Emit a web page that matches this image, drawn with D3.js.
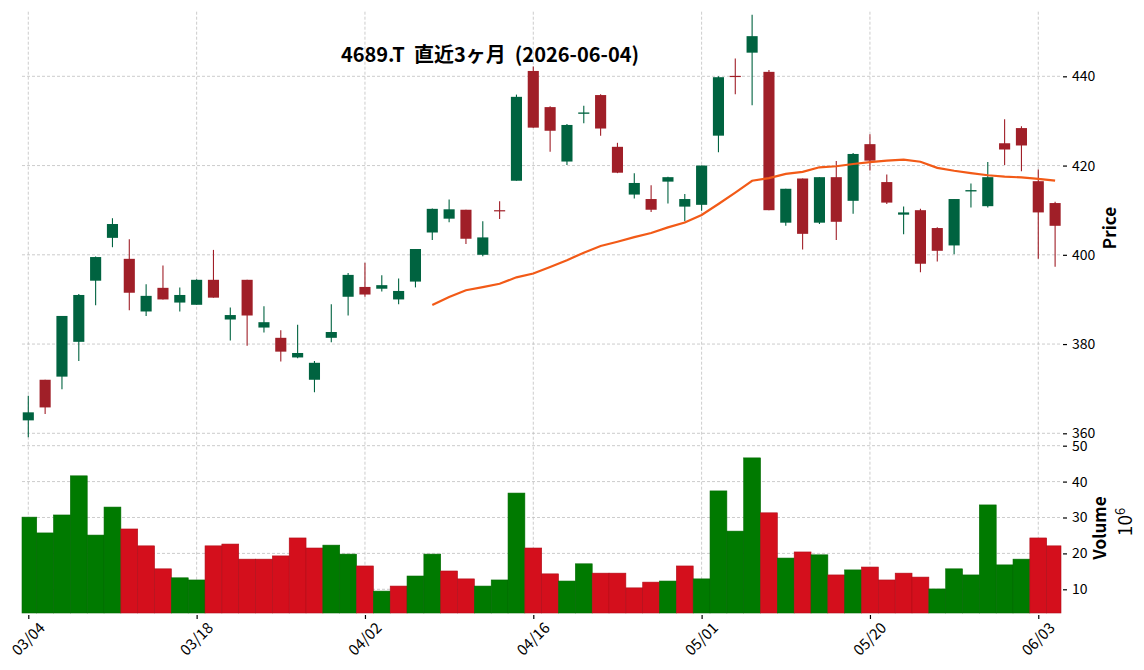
<!DOCTYPE html>
<html>
<head>
<meta charset="utf-8">
<script src="https://cdn.jsdelivr.net/npm/d3@7"></script>
<style>
  body { margin: 0; background: #fff; }
  svg text { font-family: "Noto Sans CJK JP", "Noto Sans", sans-serif; fill: #000; }
</style>
</head>
<body>
<div id="chart"></div>
<script>
// trading days
var dates = ["03/04","03/05","03/06","03/09","03/10","03/11","03/12","03/13","03/16","03/17",
  "03/18","03/19","03/23","03/24","03/25","03/26","03/27","03/30","03/31","04/01",
  "04/02","04/03","04/06","04/07","04/08","04/09","04/10","04/13","04/14","04/15",
  "04/16","04/17","04/20","04/21","04/22","04/23","04/24","04/27","04/28","04/30",
  "05/01","05/07","05/08","05/11","05/12","05/13","05/14","05/15","05/18","05/19",
  "05/20","05/21","05/22","05/25","05/26","05/27","05/28","05/29","06/01","06/02",
  "06/03","06/04"];

var opens = [362.9,372.0,372.7,380.5,394.2,403.8,399.1,387.3,392.6,389.3,
  388.8,394.4,385.5,394.4,383.7,381.4,377.0,372.0,381.4,390.6,
  392.8,392.4,390.0,394.0,405.0,408.1,410.1,400.0,410.0,416.6,
  441.2,433.1,420.9,431.6,435.8,424.2,413.5,412.5,416.4,410.8,
  411.2,426.7,440.1,445.3,441.0,407.2,417.1,407.2,417.4,412.1,
  424.8,416.3,409.0,410.0,406.0,402.1,414.2,410.9,425.0,428.4,
  416.5,411.6];
var highs = [368.4,372.0,386.3,391.2,399.6,408.2,403.5,393.4,397.6,392.7,
  394.5,401.1,388.2,394.4,388.5,383.1,384.3,376.2,388.9,395.9,
  398.2,395.4,394.7,401.3,410.4,412.4,410.1,407.5,412.0,435.9,
  442.2,433.3,429.3,433.4,436.0,425.1,418.3,415.6,417.5,413.6,
  420.0,440.0,444.0,453.8,441.4,414.8,417.1,417.4,421.0,422.8,
  427.0,418.0,410.8,410.3,406.2,412.5,416.0,420.8,430.4,428.8,
  419.1,411.9];
var lows = [359.1,364.3,369.9,376.2,388.7,401.7,387.6,386.3,390.0,387.3,
  388.8,390.4,380.8,379.6,382.6,376.1,376.8,369.2,380.4,386.4,
  390.6,391.8,388.9,392.7,403.3,407.3,402.4,399.7,408.0,416.6,
  428.5,423.1,420.1,429.5,426.7,418.3,412.6,409.6,411.5,407.5,
  409.9,423.0,436.0,433.5,410.0,406.5,401.2,406.9,403.3,409.2,
  418.9,411.4,404.6,396.1,398.5,400.1,410.6,410.6,420.1,418.7,
  399.1,397.3];
var closes = [364.7,365.8,386.3,391.0,399.5,406.9,391.5,390.8,390.0,391.0,
  394.4,390.4,386.5,386.4,384.9,378.3,378.0,375.8,382.7,395.5,
  391.1,393.2,391.9,401.3,410.3,410.2,403.6,403.9,409.8,435.4,
  428.5,427.8,429.1,431.9,428.3,418.4,416.1,410.1,417.4,412.5,
  420.0,439.8,439.9,449.0,410.0,414.8,404.7,417.4,407.4,422.6,
  421.1,411.7,409.5,398.0,400.9,412.5,414.5,417.4,423.6,424.5,
  409.5,406.5];
// volume in millions of shares
var volumes = [30.1,25.7,30.7,41.6,25.1,32.9,26.8,22.1,15.7,13.2,
  12.6,22.1,22.6,18.4,18.4,19.3,24.3,21.5,22.3,19.8,
  16.5,9.5,10.9,13.7,19.8,15.1,12.9,10.9,12.6,36.8,
  21.5,14.3,12.3,17.1,14.5,14.5,10.4,12.0,12.3,16.5,
  12.9,37.4,26.2,46.6,31.3,18.7,20.4,19.6,14.0,15.4,
  16.2,12.6,14.5,13.4,10.1,15.7,14.0,33.5,16.8,18.4,
  24.3,22.1];

var xTickLabels = ["03/04","03/18","04/02","04/16","05/01","05/20","06/03"];
var priceTicks = [360, 380, 400, 420, 440];
var volumeTicks = [10, 20, 30, 40, 50];
var maWindow = 25;
var title = "4689.T  直近3ヶ月  (2026-06-04)";

var width = 1144, height = 670;
var plotLeft = 22, plotRight = 1061, plotTop = 11.7, plotSplit = 445, plotBottom = 613;

var upCandle = "#006340", downCandle = "#a01f28";
var upVol = "#007a00", downVol = "#d40f1c";
var gridColor = "#bfbfbf";

var svg = d3.select("#chart").append("svg")
    .attr("width", width)
    .attr("height", height);

var n = dates.length;
var x = d3.scaleLinear().domain([-0.374, 61.35]).range([plotLeft, plotRight]);
var y = d3.scaleLinear().domain([357.38, 454.48]).range([plotSplit, plotTop]);
var yv = d3.scaleLinear().domain([3.4, 50.19]).range([plotBottom, plotSplit]);
var step = x(1) - x(0);

var data = dates.map(function (d, i) {
    return { i: i, date: d, o: opens[i], h: highs[i], l: lows[i], c: closes[i], v: volumes[i] };
});

// moving average of closes
var ma = [];
for (var i = maWindow - 1; i < n; i++) {
    ma.push({ i: i, v: d3.mean(closes.slice(i - maWindow + 1, i + 1)) });
}

// grid
var grid = svg.append("g")
    .attr("stroke", gridColor)
    .attr("stroke-width", 0.8)
    .attr("stroke-dasharray", "3,2");

var tickIdx = xTickLabels.map(function (t) { return dates.indexOf(t); });

grid.selectAll(".vg").data(tickIdx).enter().append("line")
    .attr("x1", function (d) { return x(d); })
    .attr("x2", function (d) { return x(d); })
    .attr("y1", plotTop).attr("y2", plotBottom);

grid.selectAll(".pg").data(priceTicks).enter().append("line")
    .attr("x1", plotLeft).attr("x2", plotRight)
    .attr("y1", function (d) { return y(d); })
    .attr("y2", function (d) { return y(d); });

grid.selectAll(".vvg").data(volumeTicks).enter().append("line")
    .attr("x1", plotLeft).attr("x2", plotRight)
    .attr("y1", function (d) { return yv(d); })
    .attr("y2", function (d) { return yv(d); });

// volume bars, coloured by close vs previous close
function volUp(d) { return d.i == 0 || d.c >= closes[d.i - 1]; }

svg.append("g").selectAll("rect")
    .data(data)
    .enter().append("rect")
    .attr("x", function (d) { return Math.max(plotLeft, x(d.i - 0.5)); })
    .attr("width", function (d) {
        var a = Math.max(plotLeft, x(d.i - 0.5)), b = Math.min(plotRight, x(d.i + 0.5));
        return b - a;
    })
    .attr("y", function (d) { return yv(d.v); })
    .attr("height", function (d) { return plotBottom - yv(d.v); })
    .attr("fill", function (d) { return volUp(d) ? upVol : downVol; })
    .attr("stroke", function (d) { return volUp(d) ? "#006a00" : "#b00d18"; })
    .attr("stroke-width", 0.6);

// candles
var candle = svg.append("g").selectAll("g")
    .data(data)
    .enter().append("g")
    .attr("fill", function (d) { return d.c >= d.o ? upCandle : downCandle; })
    .attr("stroke", function (d) { return d.c >= d.o ? upCandle : downCandle; });

candle.append("line")
    .attr("x1", function (d) { return x(d.i); })
    .attr("x2", function (d) { return x(d.i); })
    .attr("y1", function (d) { return y(d.h); })
    .attr("y2", function (d) { return y(d.l); })
    .attr("stroke-width", 1.1);

var bodyW = step * 0.66;
candle.append("rect")
    .attr("x", function (d) { return x(d.i) - bodyW / 2; })
    .attr("width", bodyW)
    .attr("y", function (d) { return y(Math.max(d.o, d.c)); })
    .attr("height", function (d) { return Math.max(1.2, Math.abs(y(d.o) - y(d.c))); })
    .attr("stroke", "none");

// moving average
svg.append("path")
    .datum(ma)
    .attr("fill", "none")
    .attr("stroke", "#f25a17")
    .attr("stroke-width", 2.2)
    .attr("d", d3.line()
        .x(function (d) { return x(d.i); })
        .y(function (d) { return y(d.v); }));

// right axes
var priceAxis = svg.append("g")
    .attr("transform", "translate(" + (plotRight + 2) + ",0)")
    .call(d3.axisRight(y).tickValues(priceTicks).tickSize(4).tickPadding(5));
var volAxis = svg.append("g")
    .attr("transform", "translate(" + (plotRight + 2) + ",0)")
    .call(d3.axisRight(yv).tickValues(volumeTicks).tickSize(4).tickPadding(5));

[priceAxis, volAxis].forEach(function (a) {
    a.select(".domain").remove();
    a.selectAll("line").attr("stroke", "#000").attr("stroke-width", 1.2);
    a.selectAll("text")
        .style("font-size", "14px")
        .style("font-family", "'Noto Sans CJK JP', 'Noto Sans', sans-serif")
        .attr("fill", "#000");
});

// x axis
var xAxis = svg.append("g")
    .attr("transform", "translate(0," + (plotBottom + 2) + ")")
    .call(d3.axisBottom(x).tickValues(tickIdx).tickSize(4).tickFormat(""));
xAxis.select(".domain").remove();
xAxis.selectAll("line").attr("stroke", "#000").attr("stroke-width", 1.2);

svg.append("g").selectAll("text")
    .data(tickIdx)
    .enter().append("text")
    .attr("transform", function (d) { return "translate(" + x(d) + "," + 639 + ")rotate(-45)"; })
    .attr("text-anchor", "middle")
    .attr("dy", "0.35em")
    .style("font-size", "15px")
    .text(function (d) { return dates[d]; });

// axis labels
svg.append("text")
    .attr("transform", "translate(1110,228)rotate(-90)")
    .attr("text-anchor", "middle")
    .attr("dy", "0.35em")
    .style("font-size", "17px")
    .style("font-weight", "bold")
    .text("Price");

svg.append("text")
    .attr("transform", "translate(1100,528)rotate(-90)")
    .attr("text-anchor", "middle")
    .attr("dy", "0.35em")
    .style("font-size", "17px")
    .style("font-weight", "bold")
    .text("Volume");

var exp = svg.append("text")
    .attr("transform", "translate(1125,522)rotate(-90)")
    .attr("text-anchor", "middle")
    .attr("dy", "0.35em")
    .style("font-size", "19px");
exp.append("tspan").text("10");
exp.append("tspan").attr("dy", "-0.5em").style("font-size", "13px").text("6");

// title
svg.append("text")
    .attr("x", 490)
    .attr("y", 62)
    .attr("text-anchor", "middle")
    .style("white-space", "pre")
    .style("font-size", "20px")
    .style("font-weight", "bold")
    .text(title);
</script>
</body>
</html>
